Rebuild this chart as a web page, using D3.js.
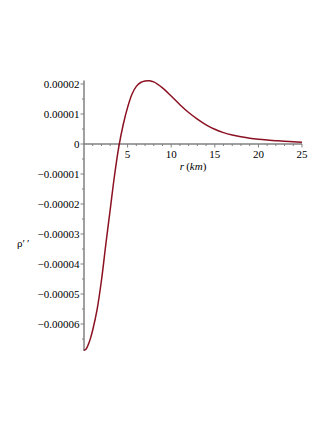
<!DOCTYPE html>
<html>
<head>
<meta charset="utf-8">
<script src="https://cdn.jsdelivr.net/npm/d3@7"></script>
<style>
  body { margin: 0; background: #fff; }
  svg { display: block; }
</style>
</head>
<body>
<div id="chart"></div>
<script>
// Data: r in km, rho'' values
var rValues = [0, 0.25, 0.5, 0.75, 1, 1.5, 2, 2.5, 3, 3.5, 4, 4.5, 5, 5.5, 6, 6.5, 7, 7.5, 8, 9, 10, 11, 12, 13, 14, 15, 16, 17, 18, 19, 20, 21, 22, 23, 24, 25];
var rhoValues = [-6.88e-5, -6.83e-5, -6.68e-5, -6.47e-5, -6.2e-5, -5.52e-5, -4.55e-5, -3.35e-5, -2.2e-5, -1.05e-5, -0.08e-5, 0.65e-5, 1.22e-5, 1.66e-5, 1.92e-5, 2.05e-5, 2.1e-5, 2.11e-5, 2.07e-5, 1.87e-5, 1.6e-5, 1.31e-5, 1.05e-5, 0.83e-5, 0.64e-5, 0.49e-5, 0.38e-5, 0.3e-5, 0.24e-5, 0.19e-5, 0.155e-5, 0.13e-5, 0.11e-5, 0.09e-5, 0.075e-5, 0.06e-5];

var xTicks = [5, 10, 15, 20, 25];
var yTicks = [2e-5, 1e-5, 0, -1e-5, -2e-5, -3e-5, -4e-5, -5e-5, -6e-5];
var yTickLabels = ["0.00002", "0.00001", "0", "\u22120.00001", "\u22120.00002", "\u22120.00003", "\u22120.00004", "\u22120.00005", "\u22120.00006"];

var width = 332, height = 430;
var axisColor = "#808080", lineColor = "#8b1022";
var serif = "'Liberation Serif', 'Times New Roman', serif";

var svg = d3.select("#chart").append("svg")
    .attr("width", width)
    .attr("height", height);

// Scales
var xScale = d3.scaleLinear().domain([0, 25]).range([84, 302]);
var yScale = d3.scaleLinear().domain([-6.9e-5, 2.12e-5]).range([351, 80.4]);

// X axis (horizontal line at rho'' = 0)
var x0 = yScale(0);
var gx = svg.append("g");
gx.append("line")
    .attr("x1", xScale(0)).attr("x2", xScale(25))
    .attr("y1", x0).attr("y2", x0)
    .attr("stroke", axisColor).attr("stroke-width", 1.5);
// minor ticks every 1 km
gx.selectAll("line.minor").data(d3.range(1, 26))
    .enter().append("line")
    .attr("class", "minor")
    .attr("x1", function(d) { return xScale(d); })
    .attr("x2", function(d) { return xScale(d); })
    .attr("y1", x0).attr("y2", function(d) { return x0 + (d % 5 === 0 ? 3.5 : 2); })
    .attr("stroke", axisColor).attr("stroke-width", 1);
gx.selectAll("text").data(xTicks)
    .enter().append("text")
    .attr("font-family", serif).attr("font-size", 11)
    .attr("x", function(d) { return xScale(d); })
    .attr("y", x0 + 13.5)
    .attr("text-anchor", "middle")
    .text(function(d) { return d; });

// X title
var xt = svg.append("text")
    .attr("font-family", serif).attr("font-size", 11)
    .attr("x", 193).attr("y", 170)
    .attr("text-anchor", "middle");
xt.append("tspan").attr("font-style", "italic").text("r");
xt.append("tspan").text("\u2009(");
xt.append("tspan").attr("font-style", "italic").text("km");
xt.append("tspan").text(")");

// Y axis
var gy = svg.append("g");
gy.append("line")
    .attr("x1", xScale(0)).attr("x2", xScale(0))
    .attr("y1", yScale(2.12e-5)).attr("y2", yScale(-6.9e-5))
    .attr("stroke", axisColor).attr("stroke-width", 1.5);
var yMinor = d3.range(-13, 5).map(function(k) { return k * 0.5e-5; });
gy.selectAll("line.minor").data(yMinor)
    .enter().append("line")
    .attr("class", "minor")
    .attr("x1", xScale(0))
    .attr("x2", function(d, i) { return xScale(0) - ((i % 2 === 0) ? 2 : 3.5); })
    .attr("y1", function(d) { return yScale(d); })
    .attr("y2", function(d) { return yScale(d); })
    .attr("stroke", axisColor).attr("stroke-width", 1);
gy.selectAll("text").data(yTicks)
    .enter().append("text")
    .attr("font-family", serif).attr("font-size", 11)
    .attr("x", 79.5)
    .attr("y", function(d) { return yScale(d); })
    .attr("dy", "0.35em")
    .attr("text-anchor", "end")
    .text(function(d, i) { return yTickLabels[i]; });

// Y title
svg.append("text")
    .attr("font-family", serif).attr("font-size", 11)
    .attr("x", 17).attr("y", 247)
    .text("\u03c1\u2032\u2009\u2032");

// Curve
var points = rValues.map(function(r, i) { return [r, rhoValues[i]]; });
var line = d3.line()
    .x(function(d) { return xScale(d[0]); })
    .y(function(d) { return yScale(d[1]); })
    .curve(d3.curveCatmullRom.alpha(0.5));
svg.append("path")
    .datum(points)
    .attr("d", line)
    .attr("fill", "none")
    .attr("stroke", lineColor)
    .attr("stroke-width", 1.5);
</script>
</body>
</html>
